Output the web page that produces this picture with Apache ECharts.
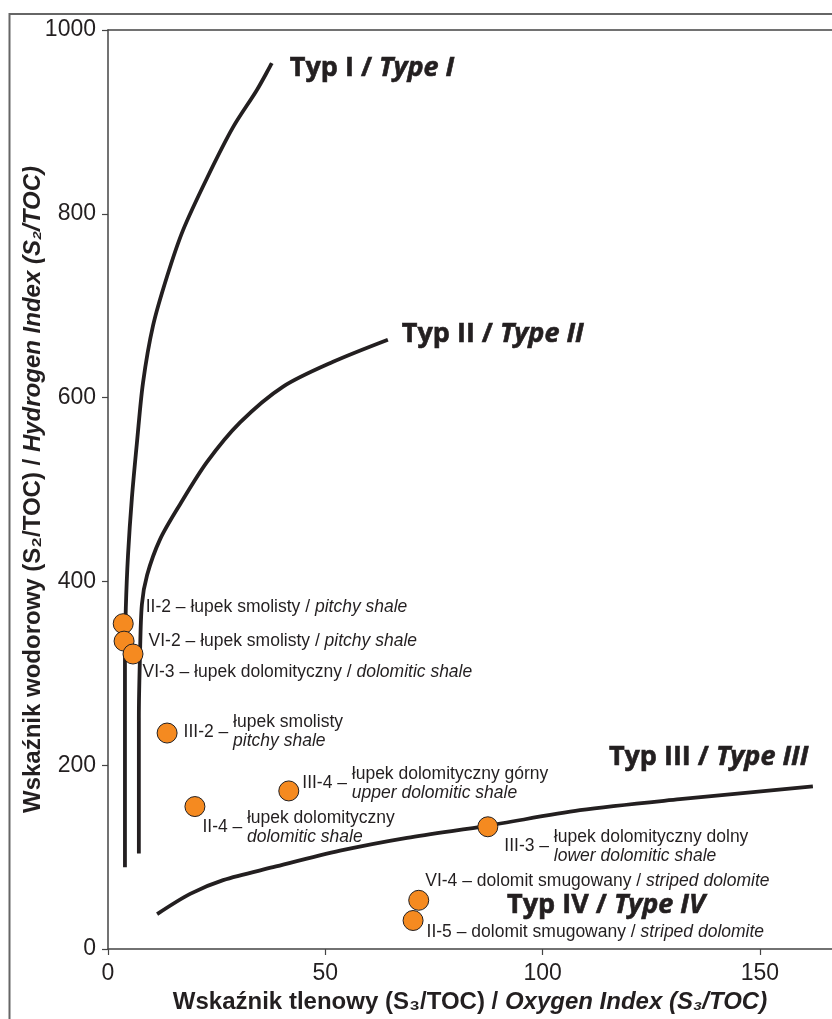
<!DOCTYPE html>
<html>
<head>
<meta charset="utf-8">
<script src="https://cdn.jsdelivr.net/npm/echarts@6/dist/echarts.min.js"></script>
<style>
  html, body { margin: 0; padding: 0; background: #fff; }
  #chart { width: 832px; height: 1019px; }
</style>
</head>
<body>
<div id="chart"></div>
<script>
// próbki / samples
const sampleIds = ['II-2', 'VI-2', 'VI-3', 'III-2', 'II-4', 'III-4', 'III-3', 'VI-4', 'II-5'];
const oxygenIdx = [3.5, 3.7, 5.75, 13.6, 20.0, 41.6, 87.4, 71.5, 70.2];
const hydrogenIdx = [354, 335, 321, 235, 155, 172, 133, 53, 31];
const lithPl = ['łupek smolisty', 'łupek smolisty', 'łupek dolomityczny', 'łupek smolisty', 'łupek dolomityczny',
  'łupek dolomityczny górny', 'łupek dolomityczny dolny', 'dolomit smugowany', 'dolomit smugowany'];
const lithEn = ['pitchy shale', 'pitchy shale', 'dolomitic shale', 'pitchy shale', 'dolomitic shale',
  'upper dolomitic shale', 'lower dolomitic shale', 'striped dolomite', 'striped dolomite'];

// krzywe typów kerogenu
const typeIx = [3.9, 3.9, 3.9, 3.9, 4.1, 4.6, 5.5, 6.7, 8.05, 10.35, 13.6, 17.25, 22.8, 28.75, 34.3, 37.7];
const typeIy = [89, 165, 241, 317, 371, 428, 491, 553, 616, 678, 732, 782, 839, 894, 935, 964];
const typeIIx = [7.1, 7.1, 7.1, 7.35, 7.8, 9.0, 12.0, 16.6, 22.8, 30.4, 40.3, 51.8, 64.4];
const typeIIy = [104, 176, 252, 317, 375, 407, 446, 484, 530, 573, 612, 639, 663];
const typeIIIx = [11.3, 18.9, 26.5, 38.0, 53.4, 68.8, 87.2, 108.6, 131.6, 162.2];
const typeIIIy = [38, 60, 75, 89, 107, 121, 134, 151, 163, 177];
const typeIVpos = [114.6, 47.7];

const xTicks = [0, 50, 100, 150];
const yTicks = [0, 200, 400, 600, 800, 1000];

// label layout (style only)
const labelOffsets = [[12, -17], [14, 0], [-1, 18], [6, -1], [-3, 21], [3, -8], [6, 19], [-4, -19], [3, 12]];
const twoLine = [false, false, false, true, true, true, true, false, false];
const blockOffsets = { 3: [66, -1], 4: [52, 21], 5: [63, -7], 6: [66, 20] };

const ink = '#231f20';
const txt = { fontFamily: 'Liberation Sans, Arial, sans-serif', fontSize: 17.5, color: ink };
const typeFont = { fontFamily: 'Open Sans', fontWeight: 'bold', fontSize: 27, color: ink, textBorderColor: ink, textBorderWidth: 0.6 };
const typeRich = {
  n: typeFont,
  i: Object.assign({}, typeFont, { fontStyle: 'italic' })
};

let sampleData = sampleIds.map((id, i) => ({
  value: [oxygenIdx[i], hydrogenIdx[i]],
  label: {
    offset: labelOffsets[i],
    formatter: twoLine[i] ? `{t|${id} –}` : `{t|${id} – ${lithPl[i]} / }{i|${lithEn[i]}}`
  }
}));

let blockData = [];
sampleIds.forEach((id, i) => {
  if (twoLine[i]) {
    blockData.push({
      value: [oxygenIdx[i], hydrogenIdx[i]],
      label: { offset: blockOffsets[i], formatter: `{t|${lithPl[i]}}\n{i|${lithEn[i]}}` }
    });
  }
});

const zip = (xs, ys) => xs.map((x, i) => [x, ys[i]]);

function curve(name, xs, ys, endLabel) {
  return {
    name: name,
    type: 'line',
    data: zip(xs, ys),
    smooth: 0.3,
    showSymbol: false,
    symbol: 'none',
    lineStyle: { color: ink, width: 3.8, cap: 'butt' },
    endLabel: Object.assign({ show: true, distance: 0, rich: typeRich }, endLabel),
    silent: true,
    z: 2
  };
}

const richText = {
  t: txt,
  i: Object.assign({}, txt, { fontStyle: 'italic' })
};

const titleRich = {
  b: { fontFamily: 'Liberation Sans', fontWeight: 'bold', fontSize: 24, color: ink },
  bi: { fontFamily: 'Liberation Sans', fontWeight: 'bold', fontStyle: 'italic', fontSize: 24, color: ink }
};

let chart = echarts.init(document.getElementById('chart'));
let option = {
  backgroundColor: '#fff',
  animation: false,
  grid: { left: 108, right: 0, top: 30, bottom: 67 },
  xAxis: [{
    type: 'value',
    min: 0,
    max: 166.6,
    interval: 50,
    name: '{b|Wskaźnik tlenowy (S₃/TOC) / }{bi|Oxygen Index (S₃/TOC)}',
    nameLocation: 'middle',
    nameGap: 41,
    nameMoveOverlap: false,
    nameTextStyle: { rich: titleRich },
    axisLine: { lineStyle: { color: '#444', width: 1.5 } },
    axisTick: { length: 6, lineStyle: { color: '#444', width: 1.2 } },
    axisLabel: {
      showMaxLabel: false,
      fontFamily: 'Liberation Sans', fontSize: 23, color: ink, margin: 13,
      formatter: v => xTicks.includes(v) ? String(v) : ''
    },
    splitLine: { show: false }
  }, {
    type: 'value',
    position: 'top',
    min: 0,
    max: 166.6,
    axisLine: { show: true, lineStyle: { color: '#444', width: 1.5 } },
    axisTick: { show: false },
    axisLabel: { show: false },
    splitLine: { show: false }
  }],
  yAxis: {
    type: 'value',
    min: 0,
    max: 1000,
    interval: 200,
    name: '{b|Wskaźnik wodorowy (S₂/TOC) / }{bi|Hydrogen Index (S₂/TOC)}',
    nameLocation: 'middle',
    nameGap: 63,
    nameMoveOverlap: false,
    nameTextStyle: { rich: titleRich },
    axisLine: { show: true, lineStyle: { color: '#444', width: 1.5 } },
    axisTick: { show: true, length: 6, lineStyle: { color: '#444', width: 1.2 } },
    axisLabel: {
      fontFamily: 'Liberation Sans', fontSize: 23, color: ink, margin: 12,
      formatter: v => yTicks.includes(v) ? String(v) : ''
    },
    splitLine: { show: false }
  },
  graphic: [{
    type: 'polyline',
    shape: { points: [[9.5, 1019], [9.5, 14], [832, 14]] },
    style: { stroke: '#666', lineWidth: 2, fill: null },
    silent: true
  }],
  series: [
    curve('Typ I', typeIx, typeIy, { offset: [18, 5], formatter: '{n|Typ I / }{i|Type I}' }),
    curve('Typ II', typeIIx, typeIIy, { offset: [14, -5], formatter: '{n|Typ II / }{i|Type II}' }),
    curve('Typ III', typeIIIx, typeIIIy, { offset: [-204, -29], formatter: '{n|Typ III / }{i|Type III}' }),
    {
      name: 'Typ IV',
      type: 'scatter',
      data: [typeIVpos],
      symbolSize: 0,
      silent: true,
      itemStyle: { opacity: 1 },
      label: { show: true, position: 'inside', formatter: '{n|Typ IV / }{i|Type IV}', rich: typeRich }
    },
    {
      name: 'opis',
      type: 'scatter',
      data: blockData,
      symbolSize: 0,
      silent: true,
      itemStyle: { opacity: 1 },
      label: { show: true, position: 'right', distance: 0, lineHeight: 19, rich: {
        t: Object.assign({}, txt, { lineHeight: 19 }),
        i: Object.assign({}, txt, { fontStyle: 'italic', lineHeight: 19 })
      } },
      z: 4
    },
    {
      name: 'próbki',
      type: 'scatter',
      data: sampleData,
      symbol: 'circle',
      symbolSize: 20,
      itemStyle: { color: '#F58A20', borderColor: ink, borderWidth: 1, opacity: 1 },
      label: { show: true, position: 'right', distance: 0, rich: richText },
      z: 5
    }
  ]
};
chart.setOption(option);
</script>
</body>
</html>
